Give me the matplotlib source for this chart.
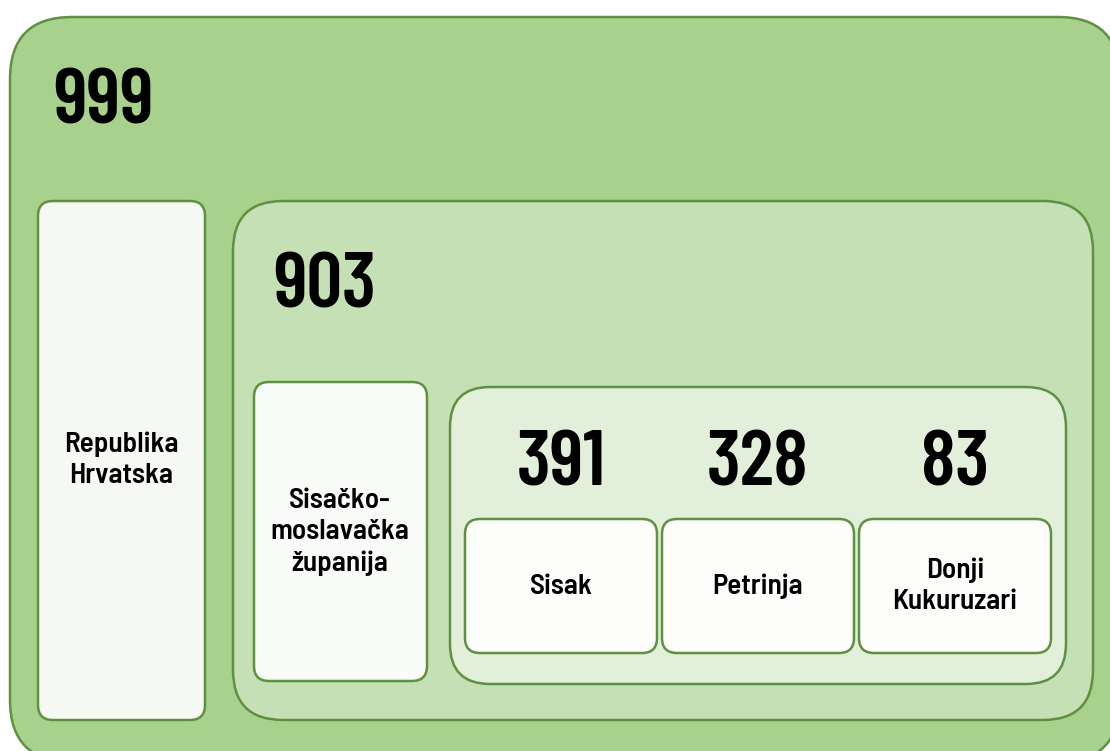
import matplotlib.pyplot as plt
from matplotlib.patches import FancyBboxPatch

# hierarchy levels: country -> county -> towns
country = "Republika\nHrvatska"
country_value = 999
county = "Sisačko-\nmoslavačka\nžupanija"
county_value = 903
towns = ["Sisak", "Petrinja", "Donji\nKukuruzari"]
town_values = [391, 328, 83]

edge = "#5e9140"
num_font = ["Barlow Condensed", "DejaVu Sans"]
lab_font = ["Barlow Semi Condensed", "DejaVu Sans"]

fig = plt.figure(figsize=(11.1, 7.51), dpi=100)
ax = fig.add_axes([0, 0, 1, 1])
ax.set_xlim(0, 1110)
ax.set_ylim(751, 0)
ax.axis("off")


def box(x0, y0, x1, y1, r, fc, lw=1.8):
    p = FancyBboxPatch((x0 + r, y0 + r), x1 - x0 - 2 * r, y1 - y0 - 2 * r,
                       boxstyle=f"round,pad={r}", fc=fc, ec=edge, lw=lw)
    ax.add_patch(p)


def number(x, y, v, ha="left"):
    ax.text(x, y, str(v), ha=ha, va="center", fontsize=57, fontweight="semibold",
            family=num_font)


def label(x, y, s):
    ax.text(x, y, s, ha="center", va="center", fontsize=21, fontweight="semibold",
            linespacing=1.32, family=lab_font)


# outer level
box(10, 17, 1120, 762, 62, "#a8d18d")
number(53, 103, country_value)
box(38, 201, 205, 720, 15, "#f6f8f3")
label(121, 460, country)

# county level
box(233, 201, 1093, 720, 50, "#c5e0b4")
number(273, 287, county_value)
box(254, 382, 427, 681, 15, "#f9fbf8")
label(340, 532, county)

# town level
box(450, 387, 1066, 684, 40, "#e2efda")
town_x = [465, 662, 859]
for x, name, v in zip(town_x, towns, town_values):
    box(x, 519, x + 192, 653, 15, "#fdfefc")
    number(x + 96, 466, v, ha="center")
    label(x + 96, 586, name)

fig.savefig("out.png", dpi=100)
